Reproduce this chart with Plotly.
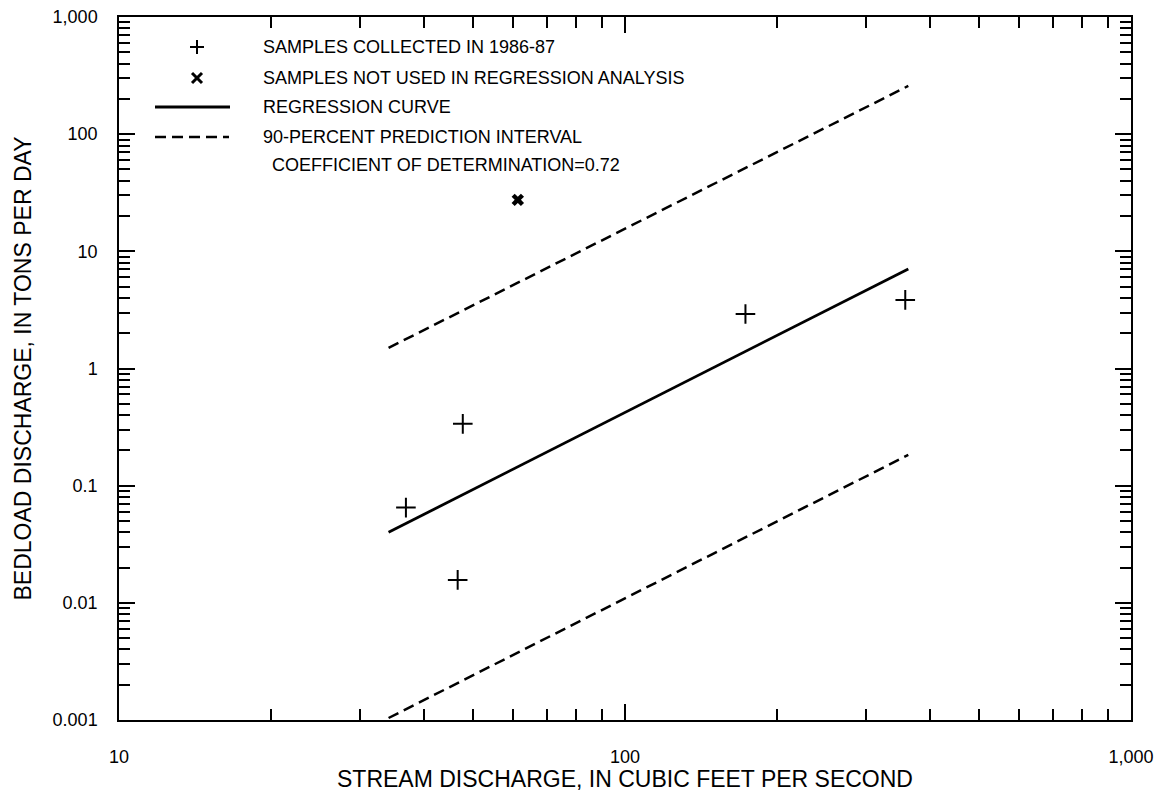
import plotly.graph_objects as go

# Data
sample_q = [36.9, 47.8, 46.7, 173, 358]          # stream discharge, cfs
sample_bed = [0.065, 0.337, 0.0157, 2.92, 3.85]   # bedload, tons/day
excluded_q = [61.4]
excluded_bed = [27.5]

reg_q = [34.1, 363]
reg_bed = [0.040, 7.08]
upper_q = [34.1, 363]
upper_bed = [1.50, 258]
lower_q = [34.1, 363]
lower_bed = [0.00104, 0.183]

y_tickvals = [0.001, 0.01, 0.1, 1, 10, 100, 1000]
y_ticktext = ["0.001", "0.01", "0.1", "1", "10", "100", "1,000"]
x_tickvals = [10, 100, 1000]
x_ticktext = ["10", "100", "1,000"]

legend_labels = [
    "SAMPLES COLLECTED IN 1986-87",
    "SAMPLES NOT USED IN REGRESSION ANALYSIS",
    "REGRESSION CURVE",
    "90-PERCENT PREDICTION INTERVAL",
]
coef_label = "COEFFICIENT OF DETERMINATION=0.72"

FONT = "Liberation Sans, Arial, sans-serif"
DASH = "11px,6px"

fig = go.Figure()
fig.add_trace(go.Scatter(x=upper_q, y=upper_bed, mode="lines",
                         line=dict(color="black", width=2.5, dash=DASH), showlegend=False))
fig.add_trace(go.Scatter(x=lower_q, y=lower_bed, mode="lines",
                         line=dict(color="black", width=2.5, dash=DASH), showlegend=False))
fig.add_trace(go.Scatter(x=reg_q, y=reg_bed, mode="lines",
                         line=dict(color="black", width=2.8), showlegend=False))
fig.add_trace(go.Scatter(x=sample_q, y=sample_bed, mode="markers",
                         marker=dict(symbol="cross-thin-open", size=14, color="black",
                                     line=dict(color="black", width=2)), showlegend=False))
fig.add_trace(go.Scatter(x=excluded_q, y=excluded_bed, mode="markers",
                         marker=dict(symbol="x", size=11, color="black",
                                     line=dict(width=0)), showlegend=False))

def minor_vals(lo_exp, hi_exp):
    out = []
    for e in range(lo_exp, hi_exp):
        for m in range(2, 10):
            out.append(m * 10 ** e)
    return out

axis_common = dict(
    type="log", showgrid=False, zeroline=False, automargin=False,
    showline=True, linecolor="black", linewidth=1.5, mirror="allticks",
    ticks="inside", ticklen=16, tickwidth=1.5, tickcolor="black",
    tickfont=dict(family=FONT, size=18, color="black"),
    tickmode="array",
)

fig.update_xaxes(**axis_common, range=[1, 3], tickvals=x_tickvals, ticktext=x_ticktext,
                 ticklabelstandoff=20,
                 minor=dict(tickmode="array", tickvals=minor_vals(1, 3), ticks="inside",
                            ticklen=11, tickwidth=1.5, tickcolor="black"),
                 title=dict(text="STREAM DISCHARGE, IN CUBIC FEET PER SECOND",
                            font=dict(family=FONT, size=23, color="black"), standoff=13))
fig.update_yaxes(**axis_common, range=[-3, 3], tickvals=y_tickvals, ticktext=y_ticktext,
                 ticklabelstandoff=16,
                 minor=dict(tickmode="array", tickvals=minor_vals(-3, 3), ticks="inside",
                            ticklen=11, tickwidth=1.5, tickcolor="black"),
                 title=dict(text="BEDLOAD DISCHARGE, IN TONS PER DAY",
                            font=dict(family=FONT, size=23, color="black"), standoff=15))

# Legend (drawn in paper coordinates)
W, H = 1012.0, 703.0
def px(x):
    return (x - 119) / W
def py(y):
    return (720 - y) / H

shapes = []
shapes.append(dict(type="line", xref="paper", yref="paper", x0=px(190), x1=px(204), y0=py(47), y1=py(47),
                   line=dict(color="black", width=2)))
shapes.append(dict(type="line", xref="paper", yref="paper", x0=px(197), x1=px(197), y0=py(40), y1=py(54),
                   line=dict(color="black", width=2)))
shapes.append(dict(type="line", xref="paper", yref="paper", x0=px(192), x1=px(202), y0=py(73), y1=py(83),
                   line=dict(color="black", width=3)))
shapes.append(dict(type="line", xref="paper", yref="paper", x0=px(192), x1=px(202), y0=py(83), y1=py(73),
                   line=dict(color="black", width=3)))
shapes.append(dict(type="line", xref="paper", yref="paper", x0=px(155), x1=px(230), y0=py(107), y1=py(107),
                   line=dict(color="black", width=2.8)))
shapes.append(dict(type="line", xref="paper", yref="paper", x0=px(155), x1=px(229), y0=py(137), y1=py(137),
                   line=dict(color="black", width=2.5, dash=DASH)))

rows_y = [47, 78, 107, 137]
annotations = []
for lab, yy in zip(legend_labels, rows_y):
    annotations.append(dict(text=lab, xref="paper", yref="paper", x=px(261), y=py(yy),
                            xanchor="left", yanchor="middle", showarrow=False,
                            font=dict(family=FONT, size=18, color="black")))
annotations.append(dict(text=coef_label, xref="paper", yref="paper", x=px(270), y=py(165),
                        xanchor="left", yanchor="middle", showarrow=False,
                        font=dict(family=FONT, size=18, color="black")))

fig.update_layout(
    width=1156, height=792,
    margin=dict(l=119, r=25, t=17, b=72),
    paper_bgcolor="white", plot_bgcolor="white",
    shapes=shapes, annotations=annotations,
    showlegend=False,
)

fig.write_html("out.html")
